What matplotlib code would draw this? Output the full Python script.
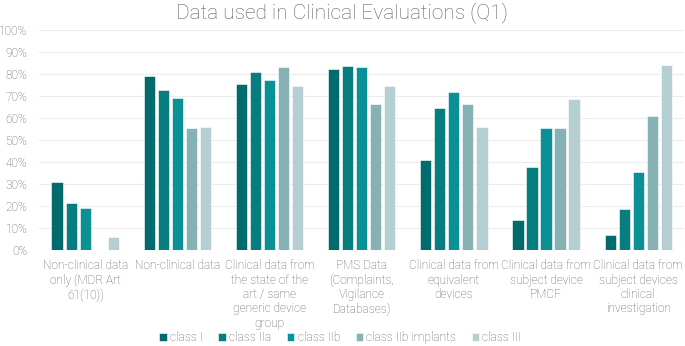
import numpy as np
import matplotlib.pyplot as plt
from matplotlib.ticker import PercentFormatter

plt.rcParams['font.family'] = ['Roboto', 'DejaVu Sans']

categories = ['Non-clinical data\nonly (MDR Art\n61(10))',
              'Non-clinical data',
              'Clinical data from\nthe state of the\nart / same\ngeneric device\ngroup',
              'PMS Data\n(Complaints,\nVigilance\nDatabases)',
              'Clinical data from\nequivalent\ndevices',
              'Clinical data from\nsubject device\nPMCF',
              'Clinical data from\nsubject devices\nclinical\ninvestigation']
series_names = ['class I', 'class IIa', 'class IIb', 'class IIb implants', 'class III']
class_i = [30.8, 79.1, 75.8, 82.6, 41.1, 13.5, 6.7]
class_iia = [21.4, 72.9, 81.0, 83.7, 64.7, 37.7, 18.7]
class_iib = [19.1, 69.2, 77.6, 83.2, 72.1, 55.4, 35.8]
class_iib_impl = [0.0, 55.4, 83.2, 66.5, 66.5, 55.4, 60.9]
class_iii = [5.9, 56.0, 74.9, 74.9, 56.0, 68.6, 84.3]
colors = ['#006a6c', '#067d7e', '#0a9196', '#86b1b5', '#b5ced1']

values = [class_i, class_iia, class_iib, class_iib_impl, class_iii]

fig = plt.figure(figsize=(6.85, 3.46), dpi=100)
ax = fig.add_axes([0.057, 0.277, 0.942, 0.635])

x = np.arange(len(categories))
step = 0.152
width = 0.122
for k, (name, vals, c) in enumerate(zip(series_names, values, colors)):
    ax.bar(x + (k - 2) * step, np.array(vals) / 100, width, color=c, label=name,
           edgecolor='white', linewidth=0.4, zorder=3)

ax.set_xlim(-0.5, len(categories) - 0.5)
ax.set_ylim(0, 1.0)
ax.set_yticks(np.arange(0, 1.01, 0.1))
ax.yaxis.set_major_formatter(PercentFormatter(1.0, decimals=0))
ax.grid(axis='y', color='#ececec', linewidth=0.8, zorder=0)
for s in ax.spines.values():
    s.set_visible(False)
ax.tick_params(length=0, colors='#5f5f5f', labelsize=8.6)
ax.tick_params(axis='y', pad=8.5)
ax.tick_params(axis='x', pad=6.5)
for t in ax.get_yticklabels():
    t.set_fontweight('light')
ax.set_xticks(x)
ax.set_xticklabels(categories, fontweight='light', linespacing=1.14)

fig.suptitle('Data used in Clinical Evaluations (Q1)', x=0.5, y=0.995,
             fontsize=15, color='#5f5f5f', fontweight='light')

leg = fig.legend(loc='lower center', bbox_to_anchor=(0.497, -0.016), ncol=5, frameon=False,
                 borderpad=0.1, handlelength=0.6, handleheight=0.6, handletextpad=0.3,
                 columnspacing=1.3, prop={'size': 8.6, 'weight': 'light'})
for t in leg.get_texts():
    t.set_color('#5f5f5f')

fig.savefig('out.png', dpi=100)
